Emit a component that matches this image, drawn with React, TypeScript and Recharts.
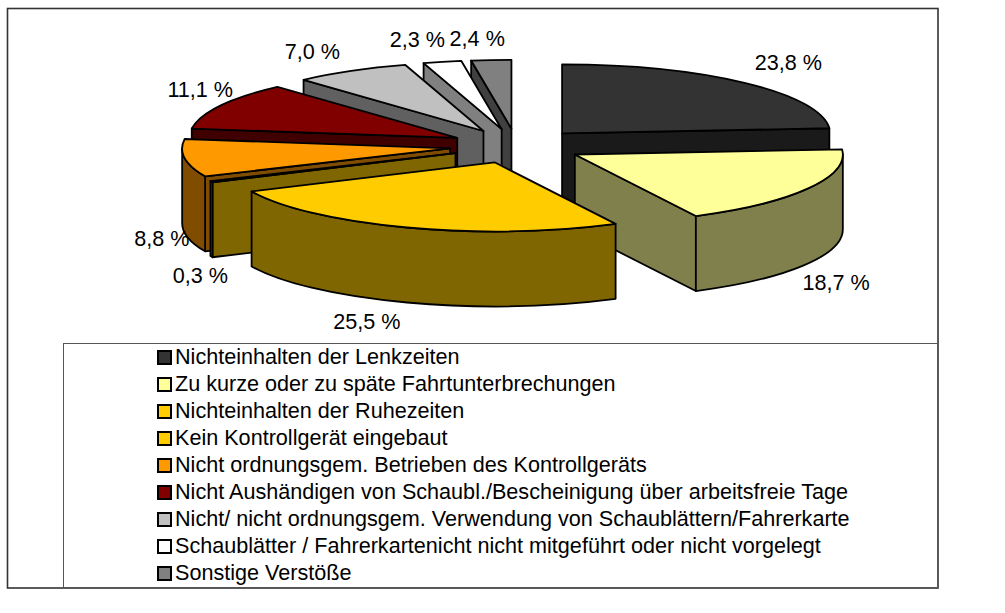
import { Legend, Pie, PieChart } from 'recharts'

const categories = [
  'Nichteinhalten der Lenkzeiten',
  'Zu kurze oder zu späte Fahrtunterbrechungen',
  'Nichteinhalten der Ruhezeiten',
  'Kein Kontrollgerät eingebaut',
  'Nicht ordnungsgem. Betrieben des Kontrollgeräts',
  'Nicht Aushändigen von Schaubl./Bescheinigung über arbeitsfreie Tage',
  'Nicht/ nicht ordnungsgem. Verwendung von Schaublättern/Fahrerkarte',
  'Schaublätter / Fahrerkartenicht nicht mitgeführt oder nicht vorgelegt',
  'Sonstige Verstöße',
]
const shares = [23.8, 18.7, 25.5, 0.3, 8.8, 11.1, 7.0, 2.3, 2.4]
const topColors = ['#333333', '#FFFF99', '#FFCC00', '#FFCC00', '#FF9900', '#800000', '#C0C0C0', '#FFFFFF', '#808080']
const wallColors = ['#1A1A1A', '#80804D', '#806600', '#806600', '#804D00', '#400000', '#606060', '#808080', '#404040']

// back to front, the pie is faked 3D so paint order matters
const drawOrder = [8, 7, 6, 5, 4, 3, 0, 1, 2]
// label shift from the rim of each slice
const labelNudges = [[44, -20], [28, 94], [-40, 94], [-11, 94], [-23, 80], [-20, -16], [-39, -19], [-25, -22], [-14, -21]]

const CX = 516.5
const CY = 146
const RX = 268
const SQUASH = 0.2575
const DEPTH = 75
const EXPLODE = 0.25
const FONT = '"Liberation Sans", Arial, sans-serif'
const FONT_SIZE = 21.6

const rows = categories.map((name, i) => ({ name, value: shares[i], fill: topColors[i], wall: wallColors[i] }))

const rad = (deg: number) => (deg * Math.PI) / 180

const Wedge = (props: any) => {
  const { cx, cy, outerRadius, startAngle, endAngle, fill, wall } = props
  const a0 = 90 - startAngle
  const a1 = 90 - endAngle
  const mid = (a0 + a1) / 2
  const ry = outerRadius * SQUASH
  const ox = cx + EXPLODE * outerRadius * Math.sin(rad(mid))
  const oy = cy - EXPLODE * ry * Math.cos(rad(mid))
  const px = (a: number) => ox + outerRadius * Math.sin(rad(a))
  const py = (a: number) => oy - ry * Math.cos(rad(a))
  const arc = (from: number, to: number, dy: number, sweep: number) =>
    `A ${outerRadius} ${ry} 0 ${Math.abs(to - from) > 180 ? 1 : 0} ${sweep} ${px(to)} ${py(to) + dy}`

  const radialWall = (a: number) =>
    `M ${ox} ${oy} L ${px(a)} ${py(a)} L ${px(a)} ${py(a) + DEPTH} L ${ox} ${oy + DEPTH} Z`

  const front0 = Math.max(a0, 90)
  const front1 = Math.min(a1, 270)
  const line = { stroke: '#000', strokeWidth: 1.8, strokeLinejoin: 'round' as const }

  return (
    <g>
      {Math.sin(rad(a0)) < -0.001 && <path d={radialWall(a0)} fill={wall} {...line} />}
      {Math.sin(rad(a1)) > 0.001 && <path d={radialWall(a1)} fill={wall} {...line} />}
      {front1 > front0 && (
        <path
          d={`M ${px(front0)} ${py(front0)} ${arc(front0, front1, 0, 1)} L ${px(front1)} ${py(front1) + DEPTH} ${arc(front1, front0, DEPTH, 0)} Z`}
          fill={wall}
          {...line}
        />
      )}
      <path d={`M ${ox} ${oy} L ${px(a0)} ${py(a0)} ${arc(a0, a1, 0, 1)} Z`} fill={fill} {...line} />
    </g>
  )
}

const sliceLabel = (props: any) => {
  const { cx, cy, outerRadius, startAngle, endAngle, index } = props
  const mid = 90 - (startAngle + endAngle) / 2
  const reach = 1 + EXPLODE
  const x = cx + reach * outerRadius * Math.sin(rad(mid)) + labelNudges[index][0]
  const y = cy - reach * outerRadius * SQUASH * Math.cos(rad(mid)) + labelNudges[index][1]
  return (
    <text x={x} y={y} textAnchor="middle" dominantBaseline="central" fontFamily={FONT} fontSize={FONT_SIZE} fill="#000">
      {shares[index].toFixed(1).replace('.', ',')} %
    </text>
  )
}

const LegendBox = ({ payload }: any) => (
  <div style={{ fontFamily: FONT, fontSize: FONT_SIZE, color: '#000', marginTop: -1 }}>
    {(payload || [])
      .filter((entry: any) => entry.type !== 'none')
      .slice(0, categories.length)
      .map((entry: any, i: number) => (
        <div key={i} style={{ height: 27, lineHeight: '27px', position: 'relative', paddingLeft: 111, whiteSpace: 'nowrap', textAlign: 'left' }}>
          <span
            style={{
              position: 'absolute',
              left: 93,
              top: 7,
              width: 11,
              height: 11,
              border: '2px solid #000',
              background: entry.color,
            }}
          />
          {entry.value}
        </div>
      ))}
  </div>
)

export default function App() {
  return (
    <div style={{ position: 'absolute', left: 0, top: 0, width: 1005, height: 613, background: '#fff' }}>
      <PieChart width={1005} height={613} margin={{ top: 0, right: 0, bottom: 0, left: 0 }}>
        <rect x={7.5} y={8.5} width={930.5} height={579.5} fill="#fff" stroke="#333" strokeWidth={1.6} />
        {drawOrder.map((slice, n) => (
          <Pie
            key={slice}
            data={rows}
            dataKey="value"
            nameKey="name"
            cx={CX}
            cy={CY}
            outerRadius={RX}
            startAngle={90}
            endAngle={-270}
            stroke="none"
            legendType={n === 0 ? 'square' : 'none'}
            isAnimationActive={false}
            labelLine={false}
            label={n === drawOrder.length - 1 ? sliceLabel : false}
            shape={(p: any) => (p.index === slice ? <Wedge {...p} /> : <g />)}
          />
        ))}
        <Legend
          content={<LegendBox />}
          itemSorter={null}
          wrapperStyle={{
            position: 'absolute',
            left: 63,
            top: 343,
            bottom: 'auto',
            width: 875,
            height: 245,
            boxSizing: 'border-box',
            border: '1px solid #555',
          }}
        />
      </PieChart>
    </div>
  )
}
